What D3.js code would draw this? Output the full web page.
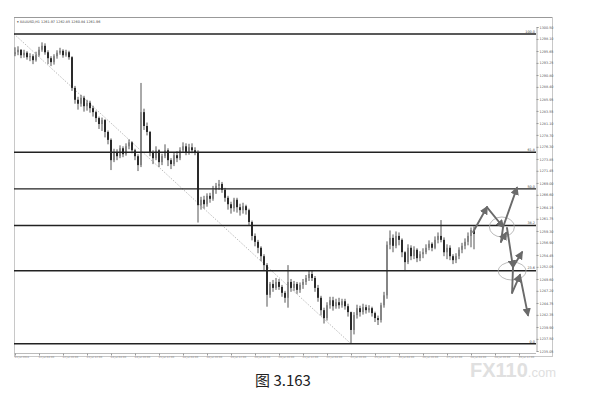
<!DOCTYPE html>
<html><head><meta charset="utf-8">
<script src="https://cdn.jsdelivr.net/npm/d3@7"></script>
<style>body{margin:0;background:#fff}svg{display:block}</style>
</head><body><svg id="c" width="592" height="408"></svg>
<script>
const firstOpen = 1295.0;
const closes = [1295.4,1295.9,1294.8,1295.3,1294.4,1294.6,1293.8,1294.8,1295.9,1296.7,
1295.4,1294.2,1293.4,1294.6,1295.3,1295.7,1294.8,1295.4,1294.4,1288.2,
1285.8,1285.0,1286.2,1284.5,1285.2,1284.1,1283.3,1282.1,1280.9,1281.7,
1279.3,1277.7,1273.6,1275.2,1274.4,1276.0,1274.8,1276.4,1277.2,1275.6,
1274.4,1272.6,1283.3,1280.5,1279.3,1275.2,1274.0,1275.6,1273.2,1274.4,
1275.6,1273.6,1272.8,1274.6,1274.0,1275.6,1276.4,1275.2,1276.2,1275.6,
1275.2,1264.5,1265.6,1264.7,1266.4,1265.8,1267.6,1268.4,1268.8,1267.6,
1266.0,1264.7,1263.9,1265.6,1264.1,1263.5,1264.3,1263.5,1261.1,1258.3,
1257.1,1255.9,1254.2,1252.4,1246.4,1248.6,1247.8,1249.0,1248.0,1246.8,
1245.8,1249.0,1247.8,1248.6,1247.4,1248.4,1249.0,1249.8,1250.6,1249.8,
1247.8,1245.8,1243.3,1241.7,1244.3,1245.3,1244.1,1244.9,1244.3,1245.1,
1244.1,1242.9,1239.3,1242.3,1243.7,1242.9,1243.9,1243.3,1243.7,1242.7,
1241.7,1241.3,1244.3,1246.3,1256.5,1257.9,1256.3,1258.3,1257.5,1255.0,
1253.0,1255.9,1254.2,1255.5,1253.8,1254.6,1255.0,1255.9,1256.7,1255.9,
1257.5,1258.3,1257.5,1255.0,1255.9,1254.2,1253.4,1254.2,1255.5,1256.3,
1257.1,1258.3,1259.5,1258.7];
const highs = [1296.4,1296.6,1296.0,1295.9,1295.6,1295.2,1295.0,1295.5,1296.5,1297.4,
1297.2,1295.8,1294.6,1295.0,1295.8,1296.3,1296.0,1295.9,1295.7,1294.6,
1288.6,1286.4,1286.8,1286.6,1285.8,1285.6,1284.6,1283.6,1282.4,1282.2,
1281.9,1279.6,1278.0,1275.9,1275.8,1276.6,1276.4,1277.0,1277.8,1277.4,
1275.9,1274.8,1289.2,1284.0,1281.2,1279.5,1275.6,1276.4,1275.8,1274.9,
1276.8,1276.0,1274.0,1275.2,1275.4,1276.2,1277.2,1277.0,1276.9,1277.0,
1276.2,1275.6,1266.2,1266.4,1266.9,1267.0,1268.4,1269.0,1269.6,1269.2,
1268.0,1266.4,1265.2,1266.0,1266.0,1264.8,1265.0,1264.6,1263.8,1261.4,
1258.8,1257.5,1256.2,1254.6,1252.8,1249.0,1249.4,1249.8,1249.6,1248.4,
1247.2,1252.4,1249.6,1249.2,1249.0,1248.9,1249.6,1250.4,1251.4,1251.4,
1250.2,1248.4,1246.2,1243.8,1244.9,1246.0,1246.0,1245.6,1245.8,1245.6,
1245.6,1244.6,1243.0,1242.9,1244.4,1244.2,1244.6,1244.4,1244.3,1244.0,
1243.0,1242.2,1244.8,1247.0,1257.2,1259.4,1258.6,1259.2,1259.0,1257.8,
1255.2,1256.6,1256.4,1256.2,1255.8,1255.2,1255.8,1256.6,1257.4,1257.0,
1258.2,1259.0,1261.5,1258.0,1256.6,1256.4,1254.6,1254.8,1256.0,1256.9,
1257.8,1259.0,1260.0,1260.2];
const lows = [1294.6,1294.8,1294.2,1294.3,1293.9,1293.6,1293.0,1293.5,1294.5,1295.5,
1294.9,1293.0,1292.6,1292.9,1294.1,1294.9,1294.3,1294.5,1293.9,1287.6,
1285.0,1283.8,1284.4,1283.4,1283.6,1283.2,1282.4,1281.3,1279.9,1279.5,
1278.2,1276.8,1271.6,1273.2,1273.6,1274.0,1274.2,1274.5,1275.8,1275.0,
1273.6,1271.4,1272.2,1279.7,1278.6,1274.4,1272.8,1273.6,1272.2,1272.6,
1274.0,1272.4,1271.8,1272.4,1273.2,1273.6,1275.1,1274.6,1274.7,1275.0,
1274.6,1261.0,1263.6,1263.8,1264.2,1265.0,1265.4,1266.8,1267.6,1267.0,
1265.2,1263.6,1262.8,1263.2,1263.0,1262.4,1262.8,1262.6,1260.4,1257.4,
1256.2,1254.8,1253.2,1251.4,1244.0,1245.8,1247.0,1247.4,1247.4,1246.0,
1244.8,1243.8,1247.0,1247.2,1246.6,1246.8,1247.6,1248.4,1249.2,1249.2,
1247.0,1245.0,1242.2,1240.6,1241.2,1243.6,1243.2,1243.6,1243.6,1243.8,
1243.4,1242.0,1236.6,1238.4,1241.6,1242.0,1242.4,1242.6,1242.8,1242.0,
1240.9,1240.3,1240.8,1243.8,1245.6,1255.6,1255.0,1255.8,1256.4,1254.0,
1251.2,1252.6,1253.4,1253.6,1253.0,1253.2,1253.8,1254.6,1255.4,1255.2,
1255.6,1256.8,1257.0,1254.2,1253.6,1253.4,1252.6,1252.8,1253.6,1254.8,
1255.6,1256.4,1256.0,1255.6];
const priceTicks = ["1300.50","1298.10","1295.65","1293.25","1290.80","1288.40","1285.95",
"1283.55","1281.10","1278.70","1276.30","1273.85","1271.45","1269.00","1266.60","1264.15",
"1261.75","1259.30","1256.90","1254.45","1252.05","1249.60","1247.20","1244.75","1242.35",
"1239.90","1237.50","1235.05"];
const fibHigh = 1299.10, fibLow = 1236.50;
const fibLevels = [0, 23.6, 38.2, 50, 61.8, 100];
const fibLabels = ["0.0","23.6","38.2","50.0","61.8","100.0"];
const fibStartBar = 0, fibEndBar = 112;
const timeTickBars = [0,8,16,24,32,40,48,56,64,72,80,88,96,104,112,120,128,136,144,152,160,168];
const timeLabels = ["11 Jul 2011","12 Jul 04:00","12 Jul 20:00","13 Jul 12:00","14 Jul 04:00",
"14 Jul 20:00","15 Jul 12:00","18 Jul 04:00","18 Jul 20:00","19 Jul 12:00","20 Jul 04:00",
"20 Jul 20:00","21 Jul 12:00","22 Jul 04:00","22 Jul 20:00","25 Jul 12:00","26 Jul 04:00",
"26 Jul 20:00","27 Jul 12:00","28 Jul 04:00","28 Jul 20:00","29 Jul 12:00"];
const header = "\u25BE XAUUSD,H1  1261.97 1262.85 1260.84 1261.96";
// scenario arrows: [barFrom, priceFrom, barTo, priceTo, hasHead]
const arrowSegs = [
 [152.7,1259.1,157.3,1264.1,1],
 [157.3,1264.1,162.7,1260.1,1],
 [162.7,1260.1,167.3,1268.0,1],
 [162.7,1260.1,162.0,1257.1,0],
 [162.0,1257.1,163.7,1258.9,1],
 [164.0,1259.9,166.0,1252.0,1],
 [166.0,1252.0,169.0,1255.0,1],
 [166.0,1252.0,165.7,1246.8,0],
 [165.7,1246.8,168.3,1250.4,1],
 [168.3,1250.4,171.0,1242.3,1]
];
const circles = [[162.3,1260.1],[165.7,1251.2]];
const caption = "图 3.163";

const svg = d3.select("#c");
const x = d3.scaleLinear().domain([0,153]).range([15,474]);
const y = d3.scaleLinear().domain([1235.05,1300.50]).range([351,27]);
const L=14, R=536, T=17, B=353, RR=552;

// frame
svg.append("rect").attr("x",L+0.5).attr("y",T+0.5).attr("width",RR-L).attr("height",356-T)
  .attr("fill","none").attr("stroke","#c8c8c8");
svg.append("line").attr("x1",L).attr("x2",RR).attr("y1",T+0.5).attr("y2",T+0.5).attr("stroke","#999");
svg.append("text").attr("x",17).attr("y",22.5).attr("font-size",3.4).attr("fill","#444")
  .attr("font-family","DejaVu Sans").text(header);

// price axis
const ya = svg.append("g").attr("transform",`translate(${R+0.5},0)`)
  .call(d3.axisRight(y).tickValues(priceTicks.map(Number)).tickFormat((d,i)=>priceTicks[i]).tickSize(2).tickPadding(1));
ya.select(".domain").attr("stroke","#aaa");
ya.selectAll(".tick line").attr("stroke","#999");
ya.selectAll("text").attr("font-size",3.4).attr("fill","#555").attr("font-family","DejaVu Sans");

// time axis
const xa = svg.append("g").attr("transform",`translate(0,${B+0.5})`)
  .call(d3.axisBottom(x).tickValues(timeTickBars).tickFormat((d,i)=>timeLabels[i]).tickSize(2).tickPadding(0.5));
xa.select(".domain").attr("stroke","#bbb").attr("d",`M${L},0H${R}`);
xa.selectAll(".tick line").attr("stroke","#999");
xa.selectAll("text").attr("font-size",2.6).attr("fill","#888").attr("font-family","DejaVu Sans")
  .attr("text-anchor","start").attr("dx",-1);

// fib diagonal
svg.append("line").attr("x1",L).attr("y1",y(fibHigh)).attr("x2",x(fibEndBar)).attr("y2",y(fibLow))
  .attr("stroke","#aaa").attr("stroke-width",0.8).attr("stroke-dasharray","1.5,1.5");

// candles
const bars = closes.map((c,i)=>({i,o: i===0?firstOpen:closes[i-1],h:highs[i],l:lows[i],c}));
const g = svg.append("g");
g.selectAll("line.w").data(bars).join("line")
  .attr("x1",d=>x(d.i)).attr("x2",d=>x(d.i)).attr("y1",d=>y(d.h)).attr("y2",d=>y(d.l))
  .attr("stroke","#555").attr("stroke-width",1);
g.selectAll("rect.b").data(bars).join("rect")
  .attr("x",d=>x(d.i)-1).attr("width",2)
  .attr("y",d=>y(Math.max(d.o,d.c))).attr("height",d=>Math.max(1,Math.abs(y(d.o)-y(d.c))))
  .attr("fill",d=>d.c>=d.o?"#858585":"#2a2a2a");

// fib levels
fibLevels.forEach((lv,k)=>{
  const p = fibLow + (fibHigh-fibLow)*lv/100;
  svg.append("line").attr("x1",L).attr("x2",R).attr("y1",y(p)).attr("y2",y(p))
    .attr("stroke","#222").attr("stroke-width",1.4);
  svg.append("text").attr("x",R-1).attr("y",y(p)-1.2).attr("text-anchor","end")
    .attr("font-size",3.4).attr("fill","#444").attr("font-family","DejaVu Sans").text(fibLabels[k]);
});

// circles
svg.selectAll("ellipse").data(circles).join("ellipse")
  .attr("cx",d=>x(d[0])).attr("cy",d=>y(d[1])).attr("rx",(d,i)=>i?14:12.5).attr("ry",(d,i)=>i?9:10)
  .attr("fill","none").attr("stroke","#aaa").attr("stroke-width",0.8);

// arrows
svg.append("defs").append("marker").attr("id","ah").attr("viewBox","0 0 10 10")
  .attr("refX",8).attr("refY",5).attr("markerWidth",4.5).attr("markerHeight",4.5)
  .attr("orient","auto").attr("markerUnits","strokeWidth")
  .append("path").attr("d","M0,0L10,5L0,10z").attr("fill","#6a6a6a");
svg.selectAll("line.arr").data(arrowSegs).join("line").attr("class","arr")
  .attr("x1",d=>x(d[0])).attr("y1",d=>y(d[1])).attr("x2",d=>x(d[2])).attr("y2",d=>y(d[3]))
  .attr("stroke","#6a6a6a").attr("stroke-width",1.9).attr("stroke-linecap","round")
  .attr("marker-end",d=>d[4]?"url(#ah)":null);

// caption
svg.append("text").attr("x",283).attr("y",386).attr("text-anchor","middle")
  .attr("font-size",15).attr("fill","#222").attr("font-family","'Noto Sans CJK SC','Noto Sans',sans-serif").text(caption);
// watermark
const wm = svg.append("text").attr("x",470).attr("y",377).attr("fill","#e0e0e0")
  .attr("font-family","'Liberation Sans',Arial,sans-serif");
wm.append("tspan").attr("font-size",20).attr("font-weight","bold").text("FX110");
wm.append("tspan").attr("font-size",13).text(".com");
</script></body></html>
